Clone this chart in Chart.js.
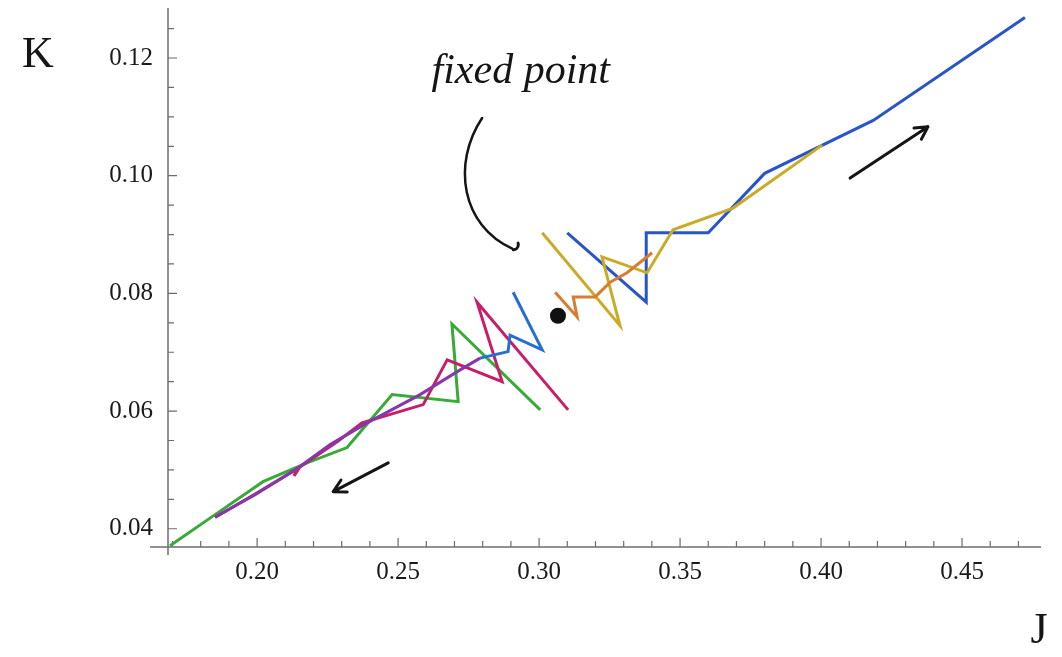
<!DOCTYPE html>
<html>
<head>
<meta charset="utf-8">
<script src="https://cdn.jsdelivr.net/npm/chart.js"></script>
<style>
  html, body { margin: 0; padding: 0; background: #fff; }
  #wrap { width: 1062px; height: 657px; }
</style>
</head>
<body>
<div id="wrap"><canvas id="flow" width="1062" height="657"></canvas></div>
<script>
// RG flow in the (J, K) plane - trajectories
const greenJ = [0.3004, 0.2691, 0.2713, 0.2479, 0.2319, 0.2177, 0.2021, 0.1851, 0.1691];
const greenK = [0.0602, 0.0748, 0.0616, 0.0628, 0.0538, 0.0512, 0.0480, 0.0424, 0.0371];

const magentaJ = [0.3103, 0.2780, 0.2869, 0.2674, 0.2589, 0.2372, 0.2284, 0.2152, 0.2131, 0.2142, 0.1993, 0.1851];
const magentaK = [0.0602, 0.0785, 0.0650, 0.0687, 0.0611, 0.0580, 0.0548, 0.0505, 0.0490, 0.0502, 0.0459, 0.0419];

const blueLowJ = [0.2908, 0.3011, 0.2897, 0.2890, 0.2791, 0.2720, 0.2578, 0.2390, 0.2259, 0.2135, 0.1993, 0.1851];
const blueLowK = [0.0802, 0.0704, 0.0729, 0.0701, 0.0690, 0.0670, 0.0628, 0.0580, 0.0543, 0.0500, 0.0458, 0.0420];

const blueHighJ = [0.3100, 0.3380, 0.3380, 0.3600, 0.3800, 0.4185, 0.4723];
const blueHighK = [0.0903, 0.0785, 0.0903, 0.0903, 0.1004, 0.1094, 0.1269];

const yellowJ = [0.3011, 0.3287, 0.3223, 0.3383, 0.3475, 0.3688, 0.4004];
const yellowK = [0.0903, 0.0745, 0.0862, 0.0835, 0.0908, 0.0945, 0.1052];

const orangeJ = [0.3057, 0.3135, 0.3121, 0.3199, 0.3252, 0.3312, 0.3401];
const orangeK = [0.0802, 0.0760, 0.0794, 0.0794, 0.0819, 0.0835, 0.0869];

const fixedJ = [0.3067];
const fixedK = [0.0762];

// axis ticks
const jTicks = [0.17, 0.18, 0.19, 0.20, 0.21, 0.22, 0.23, 0.24, 0.25, 0.26, 0.27, 0.28, 0.29, 0.30, 0.31,
  0.32, 0.33, 0.34, 0.35, 0.36, 0.37, 0.38, 0.39, 0.40, 0.41, 0.42, 0.43, 0.44, 0.45, 0.46, 0.47];
const jLabels = [0.20, 0.25, 0.30, 0.35, 0.40, 0.45];
const kTicks = [0.040, 0.045, 0.050, 0.055, 0.060, 0.065, 0.070, 0.075, 0.080, 0.085, 0.090, 0.095,
  0.100, 0.105, 0.110, 0.115, 0.120, 0.125];
const kLabels = [0.04, 0.06, 0.08, 0.10, 0.12];

// hand-drawn notes, in data units
const noteText = { label: "fixed point", j: 0.2935, k: 0.1176 };
const arrowUp = [[0.4103, 0.0996], [0.4379, 0.1083]];
const arrowDown = [[0.2465, 0.0512], [0.2270, 0.0463]];
const curlyArrow = [[0.2798, 0.1098], [0.2690, 0.1020], [0.2725, 0.0915], [0.2905, 0.0876]];

const zip = (xs, ys) => xs.map((x, i) => ({ x: x, y: ys[i] }));
const isIn = (v, list) => list.some(l => Math.abs(l - v) < 1e-6);

const purple = "rgb(135,55,170)";

function line(label, data, color, extra) {
  return Object.assign({
    label: label,
    data: data,
    showLine: true,
    borderColor: color,
    backgroundColor: color,
    borderWidth: 3,
    pointRadius: 0,
    tension: 0,
    clip: false
  }, extra || {});
}

const axesPlugin = {
  id: "mathAxes",
  beforeDatasetsDraw(chart) {
    const c = chart.ctx, xs = chart.scales.x, ys = chart.scales.y;
    const a = chart.chartArea;
    c.save();
    c.strokeStyle = "#6d6d6d";
    c.lineWidth = 1.5;
    c.beginPath();
    c.moveTo(a.left - 18, a.bottom); c.lineTo(a.right, a.bottom);
    c.moveTo(a.left, a.top); c.lineTo(a.left, a.bottom + 8);
    c.stroke();
    c.lineWidth = 1.2;
    c.beginPath();
    jTicks.forEach(v => {
      const px = xs.getPixelForValue(v);
      const len = isIn(v, jLabels) ? 9 : 6;
      c.moveTo(px, a.bottom); c.lineTo(px, a.bottom - len);
    });
    kTicks.forEach(v => {
      const py = ys.getPixelForValue(v);
      const len = isIn(v, kLabels) ? 9 : 6;
      c.moveTo(a.left, py); c.lineTo(a.left + len, py);
    });
    c.stroke();
    c.restore();
  }
};

function arrowHead(c, x0, y0, x1, y1, size) {
  const ang = Math.atan2(y1 - y0, x1 - x0);
  c.moveTo(x1, y1);
  c.lineTo(x1 - size * Math.cos(ang - 0.5), y1 - size * Math.sin(ang - 0.5));
  c.moveTo(x1, y1);
  c.lineTo(x1 - size * Math.cos(ang + 0.5), y1 - size * Math.sin(ang + 0.5));
}

const notesPlugin = {
  id: "notes",
  afterDatasetsDraw(chart) {
    const c = chart.ctx, xs = chart.scales.x, ys = chart.scales.y;
    const a = chart.chartArea;
    const P = p => [xs.getPixelForValue(p[0]), ys.getPixelForValue(p[1])];
    c.save();
    c.strokeStyle = "#151515";
    c.fillStyle = "#151515";
    c.lineCap = "round";
    c.lineJoin = "round";

    [arrowUp, arrowDown].forEach(ar => {
      const p0 = P(ar[0]), p1 = P(ar[1]);
      c.lineWidth = 3;
      c.beginPath();
      c.moveTo(p0[0], p0[1]); c.lineTo(p1[0], p1[1]);
      arrowHead(c, p0[0], p0[1], p1[0], p1[1], 14);
      c.stroke();
    });

    const q = curlyArrow.map(P);
    c.lineWidth = 2.5;
    c.beginPath();
    c.moveTo(q[0][0], q[0][1]);
    c.bezierCurveTo(q[1][0], q[1][1], q[2][0], q[2][1], q[3][0], q[3][1]);
    c.stroke();
    c.lineWidth = 3;
    c.beginPath();
    c.arc(q[3][0] + 1, q[3][1] - 4, 5, 0.5 * Math.PI, 1.9 * Math.PI, true);
    c.stroke();

    c.font = "italic 42px 'Liberation Serif'";
    c.textAlign = "center";
    c.textBaseline = "middle";
    c.fillText(noteText.label, xs.getPixelForValue(noteText.j), ys.getPixelForValue(noteText.k));

    // axis names
    c.font = "44px 'Liberation Serif'";
    c.fillText("K", a.left - 130, ys.getPixelForValue(0.1205));
    c.fillText("J", a.right - 2, a.bottom + 84);
    c.restore();
  }
};

const tickFont = { family: "'Liberation Serif'", size: 25 };

new Chart(document.getElementById("flow"), {
  type: "scatter",
  data: {
    datasets: [
      line("fixed point", zip(fixedJ, fixedK), "#111", { showLine: false, pointRadius: 8, pointBorderWidth: 0 }),
      line("orange", zip(orangeJ, orangeK), "rgb(215,125,50)"),
      line("yellow", zip(yellowJ, yellowK), "rgb(200,172,40)"),
      line("blue high", zip(blueHighJ, blueHighK), "rgb(40,85,200)"),
      line("blue low", zip(blueLowJ, blueLowK), "rgb(40,110,210)", {
        segment: { borderColor: s => s.p0DataIndex >= 4 ? purple : undefined }
      }),
      line("magenta", zip(magentaJ, magentaK), "rgb(200,30,105)"),
      line("green", zip(greenJ, greenK), "rgb(55,170,55)")
    ]
  },
  options: {
    responsive: false,
    animation: false,
    devicePixelRatio: 1,
    layout: { padding: { left: 98, right: 21, top: 8, bottom: 60 } },
    plugins: { legend: { display: false }, tooltip: { enabled: false } },
    scales: {
      x: {
        type: "linear",
        min: 0.1684,
        max: 0.4780,
        afterBuildTicks: s => { s.ticks = jTicks.map(v => ({ value: v })); },
        afterFit: s => { s.height = 50; s.paddingLeft = 0; s.paddingRight = 0; },
        grid: { display: false, drawTicks: false },
        border: { display: false },
        ticks: {
          autoSkip: false,
          maxRotation: 0,
          padding: 10,
          color: "#1a1a1a",
          font: tickFont,
          callback: v => isIn(v, jLabels) ? v.toFixed(2) : ""
        }
      },
      y: {
        type: "linear",
        min: 0.0369,
        max: 0.1285,
        afterBuildTicks: s => { s.ticks = kTicks.map(v => ({ value: v })); },
        afterFit: s => { s.width = 70; s.paddingTop = 0; s.paddingBottom = 0; },
        grid: { display: false, drawTicks: false },
        border: { display: false },
        ticks: {
          autoSkip: false,
          padding: 15,
          color: "#1a1a1a",
          font: tickFont,
          callback: v => isIn(v, kLabels) ? v.toFixed(2) : ""
        }
      }
    }
  },
  plugins: [axesPlugin, notesPlugin]
});
</script>
</body>
</html>
